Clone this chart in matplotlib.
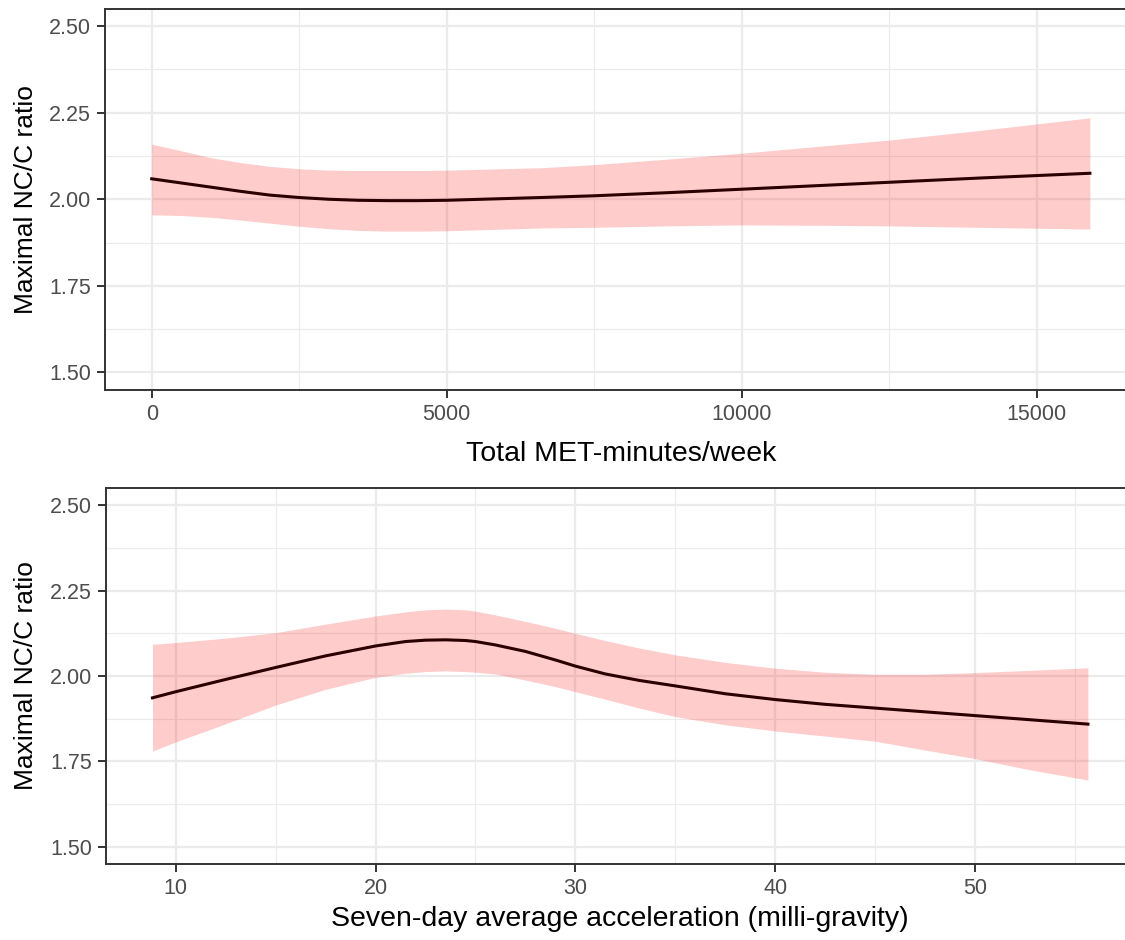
import numpy as np
import matplotlib
matplotlib.use("Agg")
import matplotlib.pyplot as plt
from matplotlib.ticker import MultipleLocator, FormatStrFormatter

plt.rcParams['font.family'] = ['Liberation Sans', 'DejaVu Sans']

# --- top panel: Total MET-minutes/week ---
met_x = [0, 500, 1000, 1500, 2000, 2500, 3000, 3500, 4000, 4500, 5000, 6600,
         7500, 8750, 10000, 11250, 12500, 14000, 15900]
met_fit = [2.059, 2.047, 2.035, 2.023, 2.012, 2.005, 2.000, 1.997, 1.996, 1.996, 1.997, 2.005,
           2.010, 2.019, 2.029, 2.039, 2.049, 2.061, 2.075]
met_hi = [2.159, 2.140, 2.120, 2.106, 2.095, 2.088, 2.084, 2.083, 2.083, 2.083, 2.084, 2.091,
          2.100, 2.116, 2.133, 2.152, 2.171, 2.198, 2.235]
met_lo = [1.955, 1.953, 1.948, 1.940, 1.931, 1.922, 1.915, 1.910, 1.908, 1.908, 1.909, 1.917,
          1.919, 1.923, 1.926, 1.925, 1.923, 1.919, 1.914]

# --- bottom panel: seven-day average acceleration ---
acc_x = [8.83, 10, 12.5, 15, 17.5, 20, 21.5, 22.5, 23.5, 24.5, 25, 26, 27.5, 29, 30,
         31.5, 33.2, 35, 37.5, 40, 42.5, 45, 47.5, 50, 52.5, 55.66]
acc_fit = [1.936, 1.954, 1.990, 2.025, 2.059, 2.088, 2.101, 2.105, 2.106, 2.104, 2.101, 2.091,
           2.072, 2.047, 2.029, 2.006, 1.987, 1.971, 1.948, 1.931, 1.917, 1.906, 1.895,
           1.884, 1.873, 1.859]
acc_hi = [2.093, 2.098, 2.111, 2.127, 2.152, 2.176, 2.188, 2.194, 2.196, 2.194, 2.190, 2.179,
          2.160, 2.140, 2.125, 2.104, 2.082, 2.062, 2.040, 2.023, 2.011, 2.005, 2.005,
          2.010, 2.016, 2.024]
acc_lo = [1.780, 1.807, 1.860, 1.915, 1.961, 1.996, 2.008, 2.013, 2.015, 2.013, 2.011, 2.006,
          1.988, 1.969, 1.954, 1.932, 1.906, 1.881, 1.857, 1.839, 1.824, 1.809, 1.783,
          1.758, 1.728, 1.695]

y_label = "Maximal NC/C ratio"


def style_axes(ax, xmajor, xminor):
    ax.set_ylim(1.45, 2.55)
    ax.yaxis.set_major_locator(MultipleLocator(0.25))
    ax.yaxis.set_minor_locator(MultipleLocator(0.125))
    ax.xaxis.set_major_locator(MultipleLocator(xmajor))
    ax.xaxis.set_minor_locator(MultipleLocator(xminor))
    ax.yaxis.set_major_formatter(FormatStrFormatter('%.2f'))
    ax.grid(which='major', color='#EBEBEB', linewidth=1.6, zorder=0)
    ax.grid(which='minor', color='#EBEBEB', linewidth=0.8, zorder=0)
    ax.set_axisbelow(True)
    for s in ax.spines.values():
        s.set_color('#333333')
        s.set_linewidth(1.4)
    ax.tick_params(which='major', length=6, width=1.4, color='#333333',
                   labelsize=15.5, labelcolor='#4D4D4D', pad=4)
    ax.tick_params(which='minor', length=0)
    ax.set_ylabel(y_label, fontsize=19, color='black', labelpad=8)


fig = plt.figure(figsize=(11.25, 9.4), dpi=100)

ax1 = fig.add_axes([104.8 / 1125, 1 - 389.8 / 940, 1032 / 1125, 381.1 / 940])
ax1.fill_between(met_x, met_lo, met_hi, color='red', alpha=0.2, linewidth=0, zorder=2)
ax1.plot(met_x, met_fit, color='#2b0000', linewidth=2.2, zorder=3)
span = met_x[-1] - met_x[0]
ax1.set_xlim(met_x[0] - 0.05 * span, met_x[-1] + 0.05 * span)
style_axes(ax1, 5000, 2500)
ax1.set_xlabel("Total MET-minutes/week", fontsize=20.5, labelpad=12)

ax2 = fig.add_axes([105.7 / 1125, 1 - 863.7 / 940, 1029 / 1125, 375.4 / 940])
ax2.fill_between(acc_x, acc_lo, acc_hi, color='red', alpha=0.2, linewidth=0, zorder=2)
ax2.plot(acc_x, acc_fit, color='#2b0000', linewidth=2.2, zorder=3)
span = acc_x[-1] - acc_x[0]
ax2.set_xlim(acc_x[0] - 0.05 * span, acc_x[-1] + 0.05 * span)
style_axes(ax2, 10, 5)
ax2.set_xlabel("Seven-day average acceleration (milli-gravity)", fontsize=20.5, labelpad=5)

fig.savefig("out.png", dpi=100)
